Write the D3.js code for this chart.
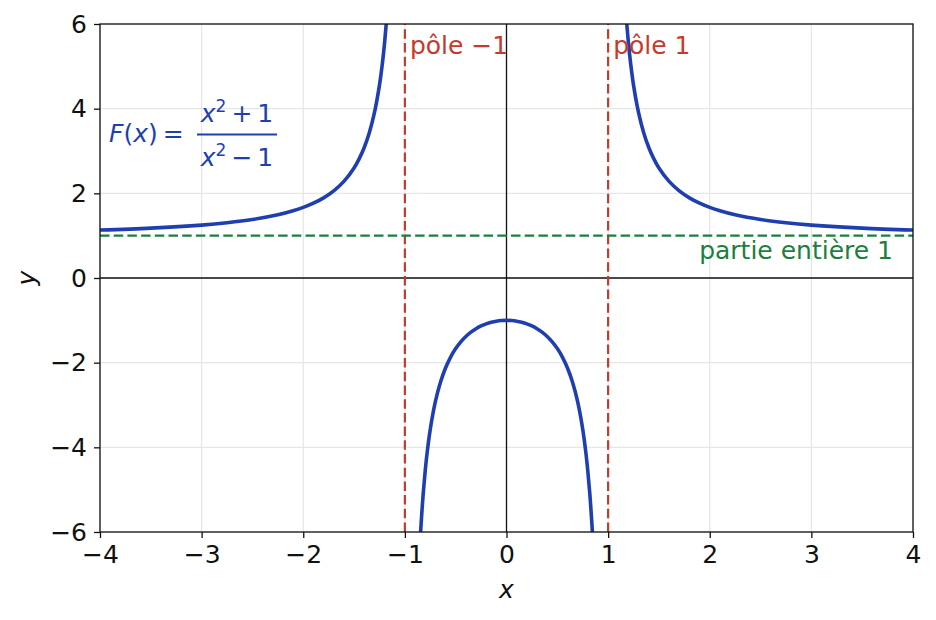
<!DOCTYPE html>
<html>
<head>
<meta charset="utf-8">
<script src="https://cdn.jsdelivr.net/npm/d3@7"></script>
<style>
  body { margin: 0; background: #fff; }
  svg { display: block; font-family: "DejaVu Sans", sans-serif; }
</style>
</head>
<body>
<svg id="chart" width="936" height="620"></svg>
<script>
// branches of F(x) = (x^2+1)/(x^2-1)
const leftX = [-4, -3.5, -3, -2.75, -2.5, -2.25, -2.1, -2, -1.9, -1.8, -1.7, -1.6, -1.5, -1.45, -1.4, -1.35, -1.3, -1.25, -1.22, -1.2, -1.18, -1.16]
const leftY = [1.133, 1.178, 1.25, 1.305, 1.381, 1.492, 1.587, 1.667, 1.766, 1.893, 2.058, 2.282, 2.6, 2.814, 3.083, 3.432, 3.899, 4.556, 5.095, 5.545, 6.097, 6.787]

const midX = [-0.85, -0.84, -0.82, -0.8, -0.78, -0.75, -0.7, -0.65, -0.6, -0.55, -0.5, -0.45, -0.4, -0.35, -0.3, -0.25, -0.2, -0.15, -0.1, -0.05, 0, 0.05, 0.1, 0.15, 0.2, 0.25, 0.3, 0.35, 0.4, 0.45, 0.5, 0.55, 0.6, 0.65, 0.7, 0.75, 0.78, 0.8, 0.82, 0.84, 0.85]
const midY = [-6.207, -5.794, -5.105, -4.556, -4.107, -3.571, -2.922, -2.463, -2.125, -1.867, -1.667, -1.508, -1.381, -1.279, -1.198, -1.133, -1.083, -1.046, -1.020, -1.005, -1, -1.005, -1.020, -1.046, -1.083, -1.133, -1.198, -1.279, -1.381, -1.508, -1.667, -1.867, -2.125, -2.463, -2.922, -3.571, -4.107, -4.556, -5.105, -5.794, -6.207]

const rightX = [1.16, 1.18, 1.2, 1.22, 1.25, 1.3, 1.35, 1.4, 1.45, 1.5, 1.6, 1.7, 1.8, 1.9, 2, 2.1, 2.25, 2.5, 2.75, 3, 3.5, 4]
const rightY = [6.787, 6.097, 5.545, 5.095, 4.556, 3.899, 3.432, 3.083, 2.814, 2.6, 2.282, 2.058, 1.893, 1.766, 1.667, 1.587, 1.492, 1.381, 1.305, 1.25, 1.178, 1.133]

const poles = [-1, 1]
const poleLabels = ["pôle \u22121", "pôle 1"]
const entierValue = 1
const entierLabel = "partie entière 1"

const xTicks = [-4, -3, -2, -1, 0, 1, 2, 3, 4]
const yTicks = [-6, -4, -2, 0, 2, 4, 6]

const width = 936, height = 620
const margin = {top: 24, right: 23, bottom: 88, left: 100}

const blue = "#1f3fb0", red = "#c53a2c", green = "#1b7f3e"
const fontSize = 25

const svg = d3.select("#chart")

const x = d3.scaleLinear().domain([-4, 4]).range([margin.left, width - margin.right])
const y = d3.scaleLinear().domain([-6, 6]).range([height - margin.bottom, margin.top])

svg.append("defs").append("clipPath").attr("id", "plotclip")
    .append("rect")
    .attr("x", x(-4)).attr("y", y(6))
    .attr("width", x(4) - x(-4)).attr("height", y(-6) - y(6))

// grid
svg.append("g").selectAll("line").data(xTicks).join("line")
    .attr("x1", d => x(d)).attr("x2", d => x(d))
    .attr("y1", y(-6)).attr("y2", y(6))
    .attr("stroke", "#e6e6e6").attr("stroke-width", 1.2)
svg.append("g").selectAll("line").data(yTicks).join("line")
    .attr("x1", x(-4)).attr("x2", x(4))
    .attr("y1", d => y(d)).attr("y2", d => y(d))
    .attr("stroke", "#e6e6e6").attr("stroke-width", 1.2)

// zero axes
svg.append("line").attr("x1", x(0)).attr("x2", x(0)).attr("y1", y(-6)).attr("y2", y(6))
    .attr("stroke", "#111").attr("stroke-width", 1.3)
svg.append("line").attr("x1", x(-4)).attr("x2", x(4)).attr("y1", y(0)).attr("y2", y(0))
    .attr("stroke", "#111").attr("stroke-width", 1.3)

const plot = svg.append("g").attr("clip-path", "url(#plotclip)")

// poles
plot.selectAll(".pole").data(poles).join("line")
    .attr("class", "pole")
    .attr("x1", d => x(d)).attr("x2", d => x(d))
    .attr("y1", y(-6)).attr("y2", y(6))
    .attr("stroke", red).attr("stroke-width", 2.2).attr("stroke-dasharray", "9.5,4.2")

// partie entiere
plot.append("line")
    .attr("x1", x(-4)).attr("x2", x(4))
    .attr("y1", y(entierValue)).attr("y2", y(entierValue))
    .attr("stroke", green).attr("stroke-width", 2.2).attr("stroke-dasharray", "9.5,4.2")

// curve
const line = d3.line().x(d => x(d[0])).y(d => y(d[1])).curve(d3.curveCatmullRom)
const branches = [d3.zip(leftX, leftY), d3.zip(midX, midY), d3.zip(rightX, rightY)]
plot.selectAll(".branch").data(branches).join("path")
    .attr("class", "branch")
    .attr("d", line)
    .attr("fill", "none").attr("stroke", blue).attr("stroke-width", 3.6)

// spines
svg.append("rect")
    .attr("x", x(-4)).attr("y", y(6))
    .attr("width", x(4) - x(-4)).attr("height", y(-6) - y(6))
    .attr("fill", "none").attr("stroke", "#111").attr("stroke-width", 1.3)

// axes
const xAxis = svg.append("g").attr("transform", `translate(0,${y(-6)})`)
    .call(d3.axisBottom(x).tickValues(xTicks).tickSize(6).tickPadding(7).tickFormat(d3.format("")))
const yAxis = svg.append("g").attr("transform", `translate(${x(-4)},0)`)
    .call(d3.axisLeft(y).tickValues(yTicks).tickSize(6).tickPadding(7).tickFormat(d3.format("")))
for (const ax of [xAxis, yAxis]) {
    ax.select(".domain").remove()
    ax.selectAll(".tick line").attr("stroke", "#111").attr("stroke-width", 1.3)
    ax.selectAll(".tick text").attr("fill", "#111")
        .style("font-family", "DejaVu Sans").style("font-size", fontSize + "px")
        .text(d => d < 0 ? "\u2212" + Math.abs(d) : d)
}

// axis labels
svg.append("text").attr("x", x(0)).attr("y", 598)
    .attr("text-anchor", "middle").attr("font-style", "italic")
    .attr("font-size", fontSize).attr("fill", "#111").text("x")
svg.append("text").attr("transform", `translate(35,${y(0)}) rotate(-90)`)
    .attr("text-anchor", "middle").attr("font-style", "italic")
    .attr("font-size", fontSize).attr("fill", "#111").text("y")

// annotations
svg.selectAll(".polelabel").data(poles).join("text")
    .attr("class", "polelabel")
    .attr("x", d => x(d) + 5).attr("y", 54)
    .attr("font-size", fontSize).attr("fill", red)
    .text((d, i) => poleLabels[i])

svg.append("text").attr("x", 893).attr("y", y(entierValue) + 23)
    .attr("text-anchor", "end").attr("font-size", fontSize).attr("fill", green)
    .text(entierLabel)

// formula
const f = svg.append("g").attr("fill", blue).attr("font-size", 25)
const lhs = f.append("text").attr("x", 109).attr("y", 142)
lhs.append("tspan").attr("font-style", "italic").text("F")
lhs.append("tspan").text("(")
lhs.append("tspan").attr("font-style", "italic").text("x")
lhs.append("tspan").text(")")
lhs.append("tspan").attr("dx", 5).text("=")

const num = f.append("text").attr("x", 237).attr("y", 122).attr("text-anchor", "middle")
num.append("tspan").attr("font-style", "italic").text("x")
num.append("tspan").attr("font-size", 17).attr("dy", -10).text("2")
num.append("tspan").attr("dy", 10).attr("dx", 5).text("+")
num.append("tspan").attr("dx", 5).text("1")
const den = f.append("text").attr("x", 237).attr("y", 166).attr("text-anchor", "middle")
den.append("tspan").attr("font-style", "italic").text("x")
den.append("tspan").attr("font-size", 17).attr("dy", -10).text("2")
den.append("tspan").attr("dy", 10).attr("dx", 5).text("\u2212")
den.append("tspan").attr("dx", 5).text("1")
f.append("line").attr("x1", 197).attr("x2", 277).attr("y1", 134.5).attr("y2", 134.5)
    .attr("stroke", blue).attr("stroke-width", 1.8)
</script>
</body>
</html>
